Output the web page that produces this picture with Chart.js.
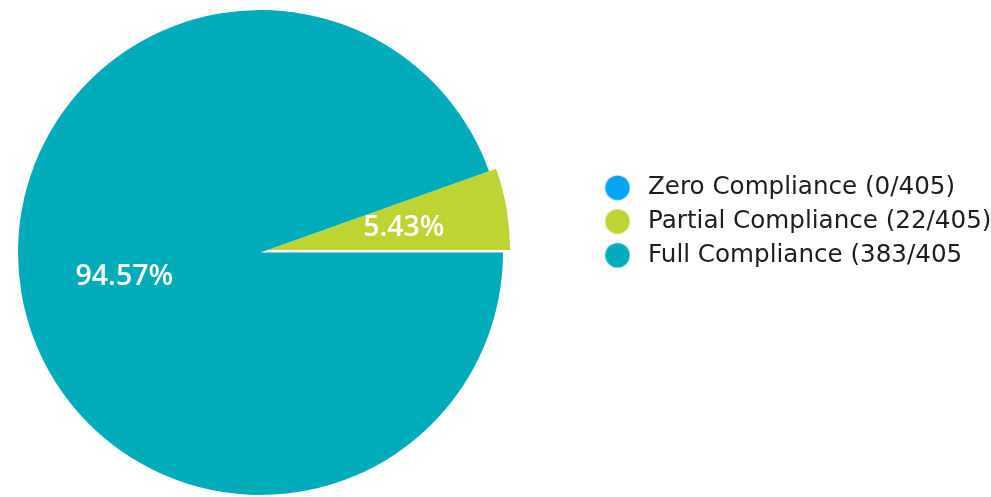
<!DOCTYPE html>
<html>
<head>
<meta charset="utf-8">
<script src="https://cdn.jsdelivr.net/npm/chart.js@4.4.1/dist/chart.umd.min.js"></script>
<style>
  html, body { margin: 0; padding: 0; background: #ffffff; overflow: hidden; width: 991px; height: 497px; }
  #wrap { position: absolute; left: -69px; top: 0; width: 1060px; height: 497px; }
</style>
</head>
<body>
<div id="wrap"><canvas id="chart" width="1060" height="497"></canvas></div>
<script>
// Compliance breakdown across 405 checked items
const categories = ['Zero Compliance (0/405)', 'Partial Compliance (22/405)', 'Full Compliance (383/405'];
const counts = [0, 22, 383];
const sliceColors = ['#05A4F6', '#BDD433', '#00ACBA'];
// how far a slice is pulled out, sliding along its leading edge
const slicePull = [0, 7.5, 0];

const total = counts.reduce((a, b) => a + b, 0);
// the partial slice ends at three o'clock
const startRotation = 90 - 360 * (counts[0] + counts[1]) / total;

const LEGEND_WIDTH = 401;
const LABEL_POS = 0.57;

// round legend markers
function markerImage(color) {
  const c = document.createElement('canvas');
  c.width = 26; c.height = 26;
  const g = c.getContext('2d');
  g.fillStyle = color;
  g.beginPath();
  g.arc(13, 13, 12.3, 0, Math.PI * 2);
  g.fill();
  return c;
}

const legendWidthPlugin = {
  id: 'legendWidth',
  beforeLayout(chart) {
    const lg = chart.legend;
    if (lg && !lg._fixedWidth) {
      const fit = lg.fit;
      lg.fit = function () { fit.call(this); this.width = LEGEND_WIDTH; };
      lg._fixedWidth = true;
    }
  }
};

const pullSlices = {
  id: 'pullSlices',
  afterDatasetUpdate(chart, args) {
    args.meta.data.forEach((arc, i) => {
      const d = slicePull[i] || 0;
      if (!d) return;
      arc.x += Math.cos(arc.startAngle) * d;
      arc.y += Math.sin(arc.startAngle) * d;
    });
  }
};

const percentLabels = {
  id: 'percentLabels',
  afterDatasetsDraw(chart) {
    const ctx = chart.ctx;
    const meta = chart.getDatasetMeta(0);
    ctx.save();
    ctx.font = '600 28.5px "Open Sans"';
    ctx.fillStyle = '#ffffff';
    ctx.textAlign = 'center';
    ctx.textBaseline = 'middle';
    meta.data.forEach((arc, i) => {
      const v = counts[i];
      if (!v) return;
      const p = arc.getProps(['x', 'y', 'startAngle', 'endAngle', 'outerRadius'], true);
      const mid = (p.startAngle + p.endAngle) / 2;
      const d = p.outerRadius * LABEL_POS;
      const text = (v / total * 100).toFixed(2) + '%';
      ctx.fillText(text, p.x + Math.cos(mid) * d, p.y + Math.sin(mid) * d + 1);
    });
    ctx.restore();
  }
};

const baseLabels = (Chart.overrides.pie && Chart.overrides.pie.plugins && Chart.overrides.pie.plugins.legend)
  ? Chart.overrides.pie.plugins.legend.labels.generateLabels
  : Chart.overrides.doughnut.plugins.legend.labels.generateLabels;

new Chart(document.getElementById('chart'), {
  type: 'pie',
  data: {
    labels: categories,
    datasets: [{
      data: counts,
      backgroundColor: sliceColors,
      borderWidth: 0
    }]
  },
  options: {
    responsive: false,
    animation: false,
    events: [],
    rotation: startRotation,
    radius: 242.5,
    layout: { padding: { top: 10, bottom: 2, left: 0, right: 0 } },
    plugins: {
      tooltip: { enabled: false },
      legend: {
        position: 'right',
        align: 'start',
        title: { display: true, text: '', font: { size: 12 }, padding: { top: 141.8, bottom: 0 } },
        labels: {
          usePointStyle: true,
          pointStyleWidth: 36.5,
          boxHeight: 24,
          padding: 9.2,
          color: '#1e1e1e',
          font: { family: '"DejaVu Sans"', size: 24.6 },
          generateLabels(chart) {
            const items = baseLabels(chart);
            items.forEach(it => { it.pointStyle = markerImage(it.fillStyle); it.lineWidth = 0; });
            return items;
          }
        }
      }
    }
  },
  plugins: [legendWidthPlugin, pullSlices, percentLabels]
});
</script>
</body>
</html>
